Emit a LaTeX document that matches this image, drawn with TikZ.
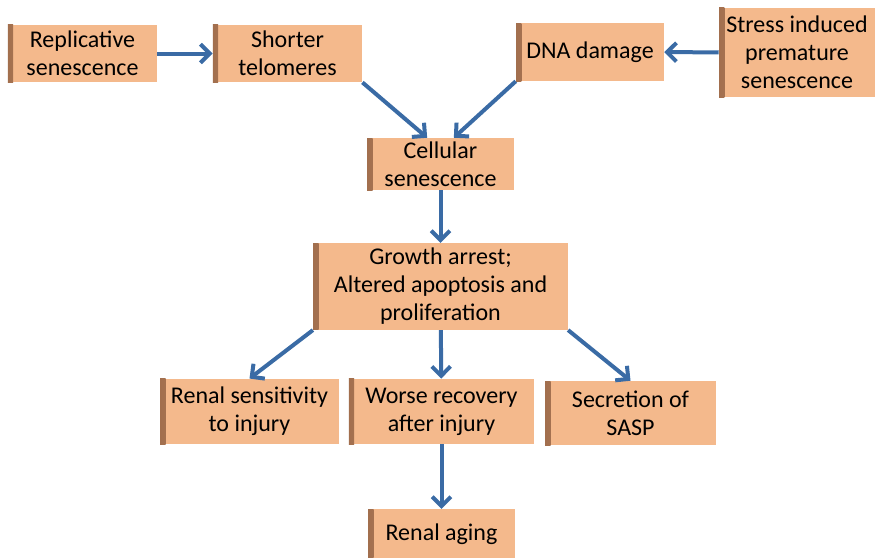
\documentclass[tikz,border=0pt]{standalone}
\usepackage{fontspec}
\setmainfont{Carlito}
\usetikzlibrary{positioning,arrows.meta}
\definecolor{boxfill}{HTML}{F4B98C}
\definecolor{boxshade}{HTML}{A26F4E}
\definecolor{arrowblue}{HTML}{3A6BA5}

\begin{document}
\begin{tikzpicture}[
    x=0.75pt, y=-0.75pt,
    >={Straight Barb[length=7pt, width=14pt]},
    boxnode/.style={
        rectangle, fill=boxfill, align=center, inner sep=2pt,
        font=\fontsize{18}{21}\selectfont,
        path picture={\shade[left color=boxshade, right color=boxfill]
          (path picture bounding box.south west) rectangle
          ([xshift=4pt]path picture bounding box.north west);}
      },
    flow/.style={->, draw=arrowblue, line width=3pt},
  ]
  \useasboundingbox (0,0) rectangle (884,557);
  \node[boxnode, minimum width=112pt, minimum height=43pt] (rep) at (82.5,53.5) {Replicative\\senescence};
  \node[boxnode, minimum width=112pt, minimum height=43pt] (tel) at (287.5,53.5) {Shorter\\telomeres};
  \node[boxnode, minimum width=111pt, minimum height=43.5pt] (dna) at (590,52) {DNA damage};
  \node[boxnode, minimum width=117pt, minimum height=67pt] (stress) at (797,52.5) {Stress induced\\premature\\senescence};
  \node[boxnode, minimum width=110pt, minimum height=39pt] (cell) at (440.5,164) {Cellular\\senescence};
  \node[boxnode, minimum width=191pt, minimum height=65pt] (arrest) at (440.5,286.5) {Growth arrest;\\Altered apoptosis and\\proliferation};
  \node[boxnode, minimum width=134pt, minimum height=49pt] (sens) at (249.5,411.5) {Renal sensitivity\\to injury};
  \node[boxnode, minimum width=139pt, minimum height=49pt] (worse) at (441.5,411.5) {Worse recovery\\after injury};
  \node[boxnode, minimum width=128pt, minimum height=48pt] (sasp) at (630.5,413) {Secretion of\\SASP};
  \node[boxnode, minimum width=110pt, minimum height=38pt] (aging) at (441.5,534.5) {Renal aging};
  \draw[flow] (rep) -- (tel);
  \draw[flow] (stress) -- (dna);
  \draw[flow] (tel.south east) -- ([xshift=-10pt]cell.north);
  \draw[flow] (dna.south west) -- ([xshift=10pt]cell.north);
  \draw[flow] (cell) -- (arrest);
  \draw[flow] (arrest.south west) -- (sens.north);
  \draw[flow] (arrest) -- (worse);
  \draw[flow] (arrest.south east) -- (sasp.north);
  \draw[flow] (worse) -- (aging);
\end{tikzpicture}
\end{document}
